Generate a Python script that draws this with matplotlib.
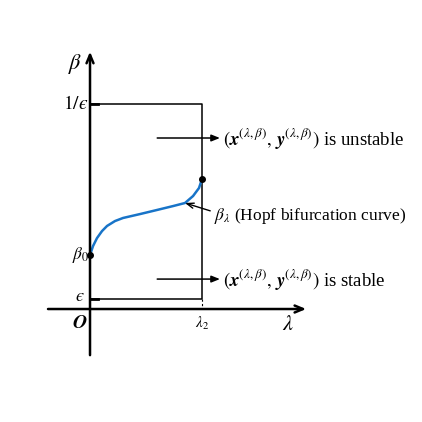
import numpy as np
import matplotlib
matplotlib.use("Agg")
import matplotlib.pyplot as plt

plt.rcParams["mathtext.fontset"] = "stix"
plt.rcParams["font.family"] = ["Liberation Serif", "DejaVu Serif"]

# Hopf bifurcation curve beta(lambda), lambda scaled so lambda_2 = 1
lam = [0.0, 0.027, 0.0625, 0.107, 0.152, 0.223, 0.295, 0.446, 0.598, 0.741, 0.848, 0.920, 0.973, 1.0]
beta = [0.263, 0.307, 0.346, 0.380, 0.405, 0.429, 0.444, 0.463, 0.483, 0.502, 0.517, 0.551, 0.590, 0.634]

lam2 = 1.0
beta_top = 1.0      # 1/eps
beta_bot = 0.049    # eps
beta0 = beta[0]

fig = plt.figure(figsize=(4.22, 4.22), dpi=100)
ax = fig.add_axes([0, 0, 1, 1])
ax.set_xlim(-0.8036, 2.964)
ax.set_ylim(-0.551, 1.507)
ax.axis("off")

# axes with arrows
ax.annotate("", xy=(1.93, 0), xytext=(-0.375, 0),
            arrowprops=dict(arrowstyle="->,head_width=0.25,head_length=0.6", lw=1.8, color="black",
                            shrinkA=0, shrinkB=0))
ax.annotate("", xy=(0, 1.255), xytext=(0, -0.225),
            arrowprops=dict(arrowstyle="->,head_width=0.25,head_length=0.6", lw=1.8, color="black",
                            shrinkA=0, shrinkB=0))

# rectangle region
ax.plot([0, lam2, lam2, 0], [beta_top, beta_top, beta_bot, beta_bot], color="black", lw=1.1)
ax.plot([lam2, lam2], [beta_bot, 0], color="black", lw=0.8, ls=(0, (2, 2)))
# small ticks
ax.plot([0, 0.075], [beta_top, beta_top], color="black", lw=2)
ax.plot([0, 0.075], [beta_bot, beta_bot], color="black", lw=2)

# curve
ax.plot(lam, beta, color="#1874c8", lw=1.8, solid_capstyle="round")
ax.plot([lam[0], lam[-1]], [beta[0], beta[-1]], "o", color="black", ms=4)

# region arrows
ax.annotate("", xy=(1.16, 0.834), xytext=(0.6, 0.834),
            arrowprops=dict(arrowstyle="-|>,head_width=0.2,head_length=0.5", lw=1.1, color="black",
                            shrinkA=0, shrinkB=0))
ax.annotate("", xy=(1.16, 0.146), xytext=(0.6, 0.146),
            arrowprops=dict(arrowstyle="-|>,head_width=0.2,head_length=0.5", lw=1.1, color="black",
                            shrinkA=0, shrinkB=0))
ax.text(1.19, 0.834, r"$(\mathbfit{x}^{(\lambda,\beta)},\,\mathbfit{y}^{(\lambda,\beta)})$ is unstable",
        fontsize=13.5, va="center", ha="left")
ax.text(1.19, 0.146, r"$(\mathbfit{x}^{(\lambda,\beta)},\,\mathbfit{y}^{(\lambda,\beta)})$ is stable",
        fontsize=13.5, va="center", ha="left")

# Hopf curve annotation
ax.annotate(r"$\beta_{\lambda}$ (Hopf bifurcation curve)", xy=(0.848, 0.517), xytext=(1.11, 0.453),
            fontsize=12.5, va="center", ha="left",
            arrowprops=dict(arrowstyle="->,head_width=0.15,head_length=0.4", lw=1.0, color="black",
                            shrinkA=1, shrinkB=0, relpos=(0, 0.7)))

# labels
ax.text(-0.13, 1.195, r"$\beta$", fontsize=16, ha="center", va="center")
ax.text(-0.015, beta_top, "$1/ϵ$", fontsize=14, ha="right", va="center")
ax.text(-0.01, beta0, r"$\beta_0$", fontsize=12.5, ha="right", va="center")
ax.text(-0.05, beta_bot + 0.01, "$ϵ$", fontsize=13, ha="right", va="center")
ax.text(-0.09, -0.07, r"$\mathbfit{O}$", fontsize=14, ha="center", va="center")
ax.text(lam2, -0.07, r"$\lambda_2$", fontsize=11, ha="center", va="center")
ax.text(1.77, -0.08, r"$\lambda$", fontsize=16, ha="center", va="center")

fig.savefig("out.png", dpi=100)
